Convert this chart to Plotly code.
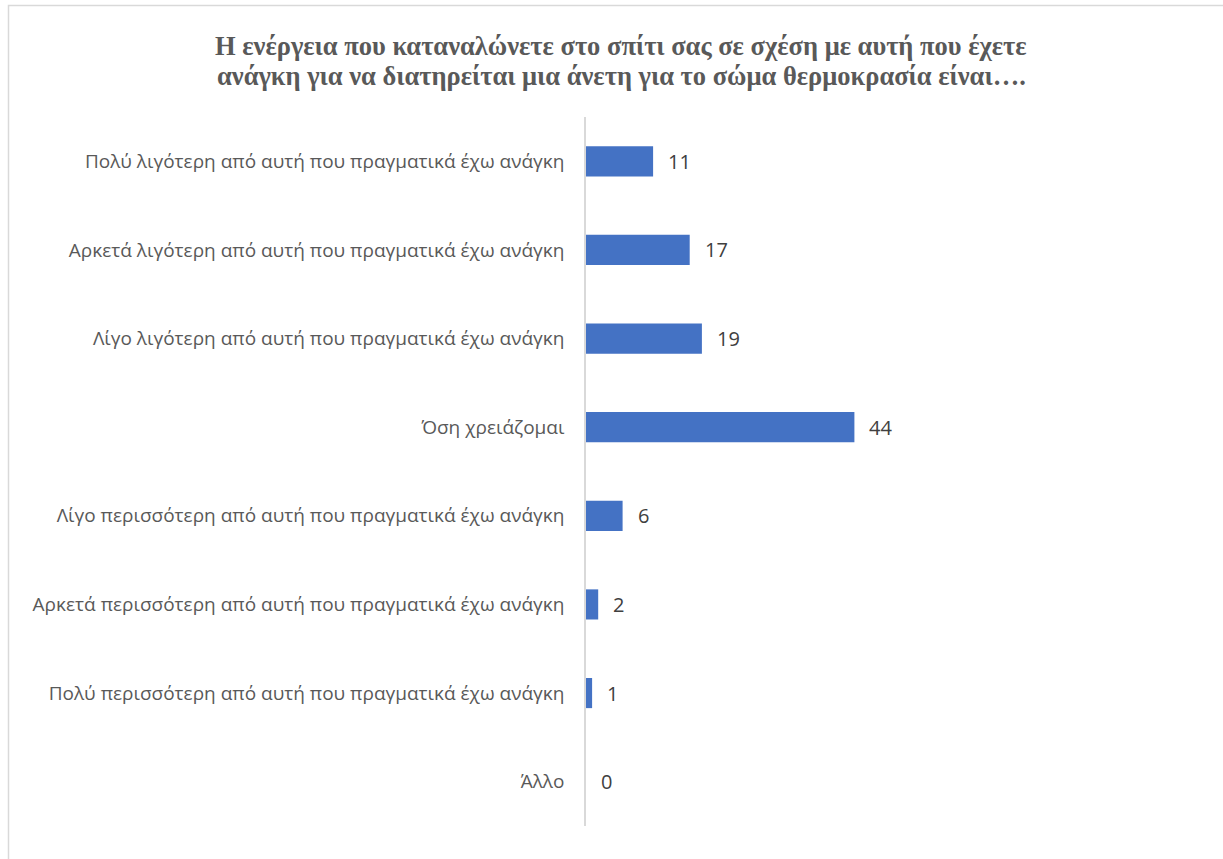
import plotly.graph_objects as go

categories = [
    "Πολύ λιγότερη από αυτή που πραγματικά έχω ανάγκη",
    "Αρκετά λιγότερη από αυτή που πραγματικά έχω ανάγκη",
    "Λίγο λιγότερη από αυτή που πραγματικά έχω ανάγκη",
    "Όση χρειάζομαι",
    "Λίγο περισσότερη από αυτή που πραγματικά έχω ανάγκη",
    "Αρκετά περισσότερη από αυτή που πραγματικά έχω ανάγκη",
    "Πολύ περισσότερη από αυτή που πραγματικά έχω ανάγκη",
    "Άλλο",
]
counts = [11, 17, 19, 44, 6, 2, 1, 0]

title_lines = [
    "Η ενέργεια που καταναλώνετε στο σπίτι σας σε σχέση με αυτή που έχετε",
    "ανάγκη για να διατηρείται μια άνετη για το σώμα θερμοκρασία είναι….",
]

W, H = 1223, 859
L, T, B = 586, 117, 33
PW = 305
R = W - L - PW
PH = H - T - B


def px_x(p):
    return (p - L) / PW


def px_y(p):
    return (H - B - p) / PH


fig = go.Figure()
fig.add_trace(go.Bar(
    x=counts,
    y=categories,
    orientation="h",
    marker=dict(color="#4472C4", line=dict(width=0)),
    hoverinfo="x+y",
))

for c, v in zip(categories, counts):
    fig.add_annotation(
        x=v, y=c, xref="x", yref="y", text=str(v), showarrow=False,
        xanchor="left", xshift=13,
        font=dict(family="Open Sans, sans-serif", size=20, color="#404040"),
    )

# two-line bold title, lines placed individually for tighter leading
for i, line in enumerate(title_lines):
    fig.add_annotation(
        x=px_x(621), y=px_y(46 + 30 * i), xref="paper", yref="paper",
        text="<b>" + line + "</b>", showarrow=False,
        xanchor="center", yanchor="middle",
        font=dict(family="Liberation Serif, serif", size=26.5, color="#595959"),
    )

# outer chart border
fig.add_shape(
    type="rect", xref="paper", yref="paper",
    x0=px_x(8.5), x1=px_x(1240), y0=px_y(5.5), y1=px_y(880),
    line=dict(color="#D9D9D9", width=1.5), layer="below",
)

fig.update_layout(
    width=W, height=H,
    margin=dict(l=L, r=R, t=T, b=B, autoexpand=False),
    paper_bgcolor="white", plot_bgcolor="white",
    showlegend=False,
    bargap=0.66,
    font=dict(family="Open Sans, sans-serif"),
)
fig.update_xaxes(range=[0, 50], visible=False)
fig.update_yaxes(
    categoryorder="array", categoryarray=categories, autorange="reversed",
    showline=True, linecolor="#D9D9D9", linewidth=1.5,
    showgrid=False, zeroline=False, ticks="",
    ticklabelstandoff=16,
    tickfont=dict(family="Open Sans, sans-serif", size=19, color="#595959"),
)

fig.write_html("out.html")
